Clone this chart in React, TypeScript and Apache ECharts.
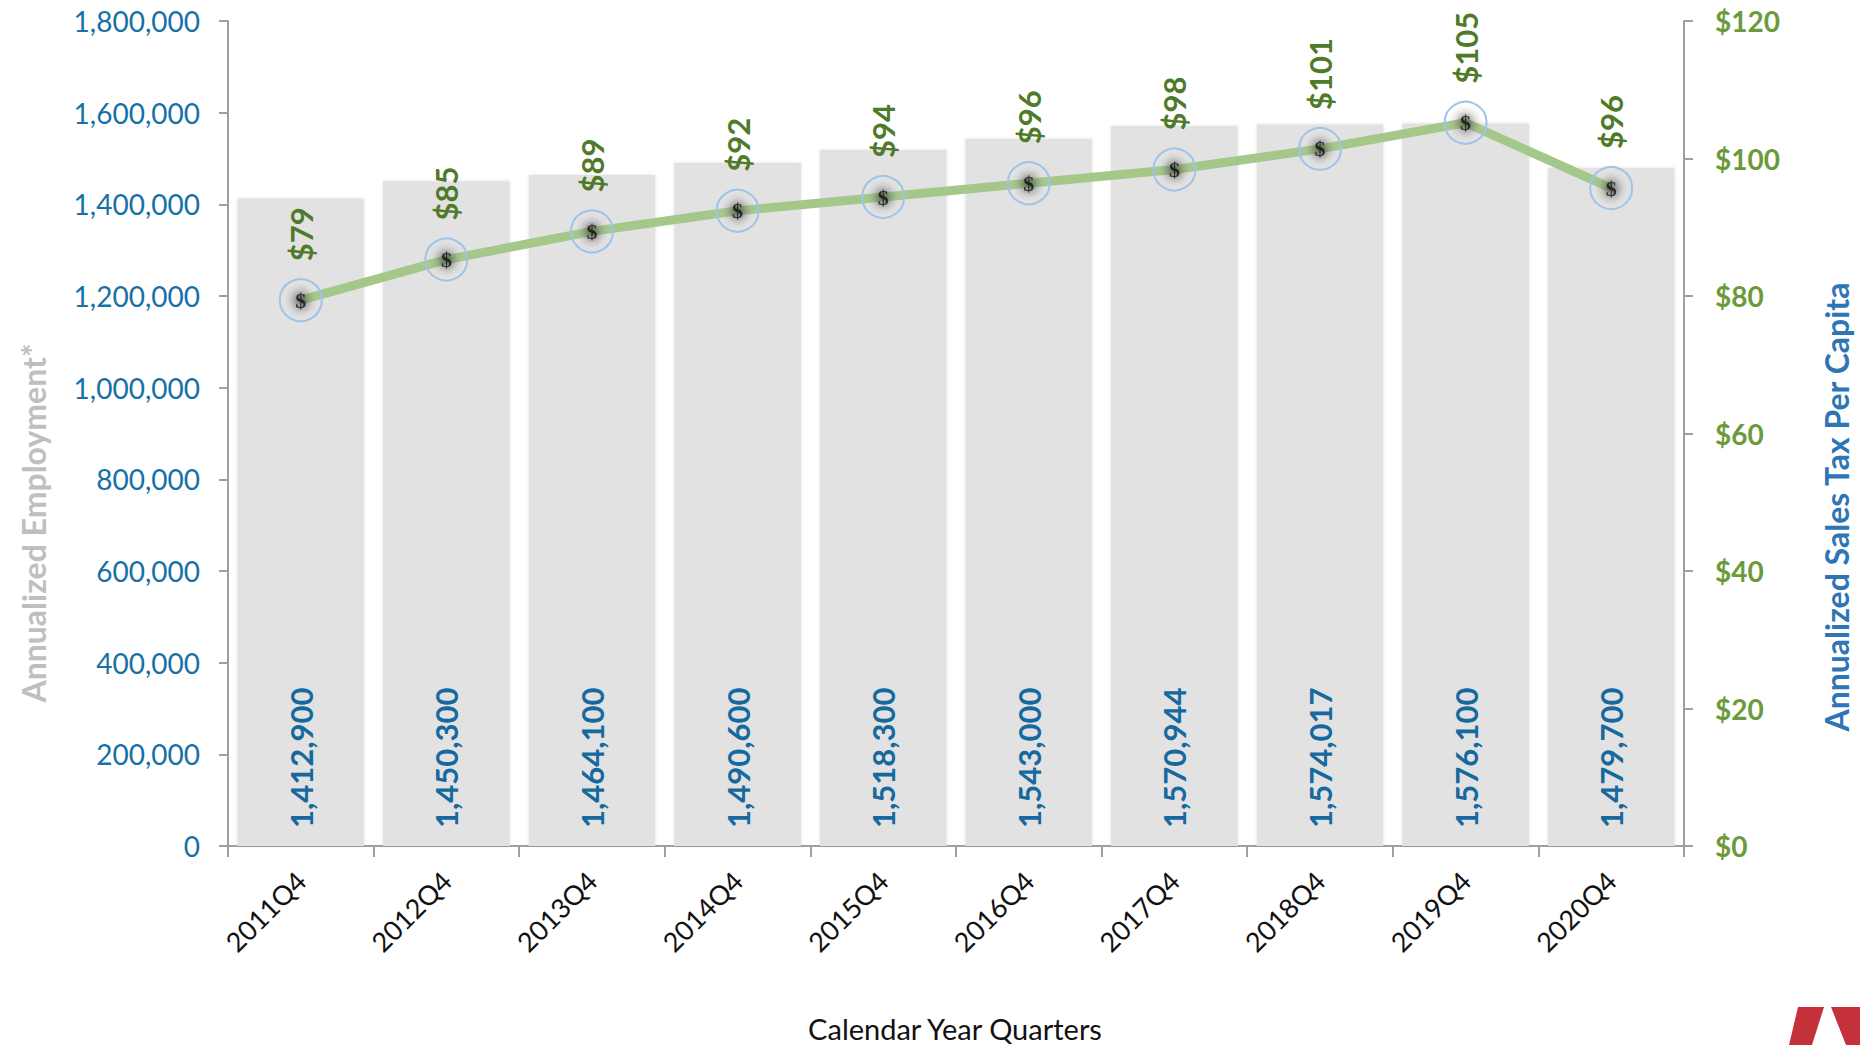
import React, { useEffect, useRef } from "react";
import * as echarts from "echarts";

const quarters = ["2011Q4", "2012Q4", "2013Q4", "2014Q4", "2015Q4", "2016Q4", "2017Q4", "2018Q4", "2019Q4", "2020Q4"];
const employment = [1412900, 1450300, 1464100, 1490600, 1518300, 1543000, 1570944, 1574017, 1576100, 1479700];
const salesTaxPerCapita = [79.4, 85.3, 89.4, 92.4, 94.4, 96.4, 98.4, 101.4, 105.2, 95.7];
const leftTicks = { min: 0, max: 1800000, interval: 200000 };
const rightTicks = { min: 0, max: 120, interval: 20 };

const FONT = 'Lato, "Open Sans", sans-serif';

export default function App() {
  const ref = useRef<HTMLDivElement>(null);
  useEffect(() => {
    if (!ref.current) return;
    const chart = echarts.init(ref.current, null, { renderer: "svg" });
    const axisLineStyle = { color: "#a0a0a0", width: 2 };
    chart.setOption({
      animation: false,
      backgroundColor: "#ffffff",
      textStyle: { fontFamily: FONT },
      grid: { left: 228, right: 176, top: 21, bottom: 199, containLabel: false },
      xAxis: {
        type: "category",
        data: quarters,
        axisLine: { show: true, lineStyle: axisLineStyle },
        axisTick: { show: true, length: 11, interval: 0, lineStyle: axisLineStyle },
        axisLabel: { interval: 0, rotate: 45, margin: 30, color: "#111111", fontSize: 27, fontFamily: FONT },
        splitLine: { show: false },
      },
      yAxis: [
        {
          type: "value",
          min: leftTicks.min,
          max: leftTicks.max,
          interval: leftTicks.interval,
          axisLine: { show: true, lineStyle: axisLineStyle },
          axisTick: { show: true, length: 9, lineStyle: axisLineStyle },
          axisLabel: {
            color: "#1770a6",
            fontSize: 28,
            margin: 28,
            fontFamily: FONT,
            formatter: (v: number) => v.toLocaleString("en-US"),
          },
          splitLine: { show: false },
        },
        {
          type: "value",
          min: rightTicks.min,
          max: rightTicks.max,
          interval: rightTicks.interval,
          position: "right",
          axisLine: { show: true, lineStyle: axisLineStyle },
          axisTick: { show: true, length: 9, lineStyle: axisLineStyle },
          axisLabel: {
            color: "#6b9a3b",
            fontSize: 28,
            fontWeight: "bold",
            margin: 31,
            fontFamily: FONT,
            formatter: (v: number) => "$" + v,
          },
          splitLine: { show: false },
        },
      ],
      series: [
        {
          type: "bar",
          yAxisIndex: 0,
          data: employment,
          barCategoryGap: "13%",
          itemStyle: { color: "#e2e2e2", shadowColor: "rgba(0,0,0,0.12)", shadowBlur: 3 },
          label: {
            show: true,
            position: "insideBottom",
            rotate: 90,
            align: "left",
            verticalAlign: "middle",
            distance: 18,
            color: "#16699f",
            fontSize: 31,
            fontWeight: "bold",
            fontFamily: FONT,
            formatter: (p: any) => Number(p.value).toLocaleString("en-US"),
          },
          z: 1,
        },
        {
          type: "line",
          yAxisIndex: 1,
          data: salesTaxPerCapita,
          lineStyle: { color: "#a4c78a", width: 9 },
          symbol: "circle",
          symbolSize: 42,
          itemStyle: {
            color: {
              type: "radial",
              x: 0.5,
              y: 0.5,
              r: 0.5,
              colorStops: [
                { offset: 0, color: "rgba(60,60,60,0.5)" },
                { offset: 0.5, color: "rgba(120,120,120,0.18)" },
                { offset: 1, color: "rgba(255,255,255,0)" },
              ],
            },
            borderColor: "#9fc4e8",
            borderWidth: 2,
          },
          label: {
            show: true,
            position: "top",
            distance: 17,
            rotate: 90,
            align: "left",
            verticalAlign: "middle",
            color: "#4f7a29",
            fontSize: 31,
            fontWeight: "bold",
            fontFamily: FONT,
            formatter: (p: any) => "$" + Math.round(p.value),
          },
          z: 3,
        },
        {
          type: "scatter",
          yAxisIndex: 1,
          data: salesTaxPerCapita,
          symbolSize: 1,
          itemStyle: { color: "rgba(0,0,0,0)" },
          label: {
            show: true,
            position: "inside",
            formatter: () => "$",
            color: "#111111",
            fontSize: 22,
            fontWeight: "bold",
            fontFamily: '"Liberation Serif", serif',
            textShadowColor: "rgba(0,0,0,0.7)",
            textShadowBlur: 8,
          },
          z: 4,
        },
      ],
      graphic: [
        {
          type: "text",
          x: 33,
          y: 523,
          rotation: Math.PI / 2,
          style: {
            text: "Annualized Employment*",
            fill: "#bfbfbf",
            font: `bold 32px ${FONT}`,
            textAlign: "center",
            textVerticalAlign: "middle",
          },
        },
        {
          type: "text",
          x: 1836,
          y: 507,
          rotation: Math.PI / 2,
          style: {
            text: "Annualized Sales Tax Per Capita",
            fill: "#2e75b6",
            font: `bold 32px ${FONT}`,
            textAlign: "center",
            textVerticalAlign: "middle",
          },
        },
        {
          type: "text",
          x: 955,
          y: 1028,
          style: {
            text: "Calendar Year Quarters",
            fill: "#111111",
            font: `29px ${FONT}`,
            textAlign: "center",
            textVerticalAlign: "middle",
          },
        },
        {
          type: "polygon",
          shape: { points: [[1798, 1007], [1824, 1007], [1812, 1045], [1789, 1045]] },
          style: { fill: "#c4313a" },
        },
        {
          type: "polygon",
          shape: { points: [[1831, 1007], [1860, 1007], [1860, 1045], [1846, 1045]] },
          style: { fill: "#c4313a" },
        },
      ],
    });
    return () => chart.dispose();
  }, []);
  return (
    <div
      ref={ref}
      style={{ position: "absolute", left: 0, top: 0, width: 1860, height: 1045, background: "#fff" }}
    />
  );
}
